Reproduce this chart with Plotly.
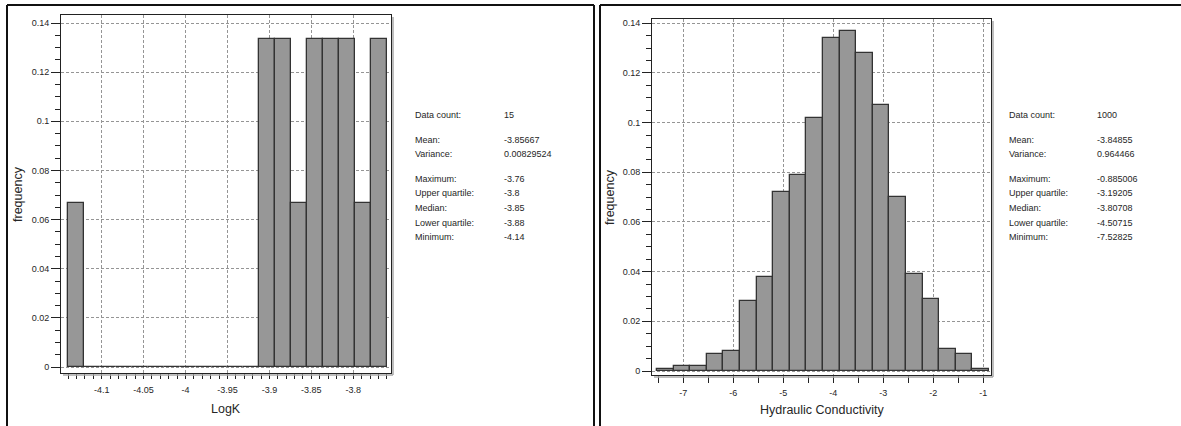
import plotly.graph_objects as go

W, H = 1181, 426

# ---------------- data ----------------
left_min, left_max = -4.14, -3.76
left_freq = [0.0667, 0, 0, 0, 0, 0, 0, 0, 0, 0, 0, 0,
             0.1333, 0.1333, 0.0667, 0.1333, 0.1333, 0.1333, 0.0667, 0.1333]
left_xtick_vals = [-4.1, -4.05, -4.0, -3.95, -3.9, -3.85, -3.8]
left_xtick_text = ["-4.1", "-4.05", "-4", "-3.95", "-3.9", "-3.85", "-3.8"]

right_min, right_max = -7.52825, -0.885006
right_freq = [0.001, 0.002, 0.002, 0.007, 0.008, 0.028, 0.038, 0.072, 0.079, 0.102,
              0.134, 0.137, 0.128, 0.107, 0.070, 0.039, 0.029, 0.009, 0.007, 0.001]
right_xtick_vals = [-7, -6, -5, -4, -3, -2, -1]
right_xtick_text = ["-7", "-6", "-5", "-4", "-3", "-2", "-1"]

ytick_vals = [0, 0.02, 0.04, 0.06, 0.08, 0.1, 0.12, 0.14]
ytick_text = ["0", "0.02", "0.04", "0.06", "0.08", "0.1", "0.12", "0.14"]

stat_labels = ["Data count:", "Mean:", "Variance:", "Maximum:", "Upper quartile:",
               "Median:", "Lower quartile:", "Minimum:"]
left_stats = ["15", "-3.85667", "0.00829524", "-3.76", "-3.8", "-3.85", "-3.88", "-4.14"]
right_stats = ["1000", "-3.84855", "0.964466", "-0.885006", "-3.19205", "-3.80708",
               "-4.50715", "-7.52825"]

left_xtitle = "LogK"
right_xtitle = "Hydraulic Conductivity"
ytitle = "frequency"


def bins(lo, hi, n):
    w = (hi - lo) / n
    return [lo + w * (i + 0.5) for i in range(n)], w


def px(x):
    return x / W


def py(y):
    return 1 - y / H


FONT = "Liberation Sans, Arial, sans-serif"
TXT = "#262626"

lx, lw = bins(left_min, left_max, len(left_freq))
rx, rw = bins(right_min, right_max, len(right_freq))

fig = go.Figure()
bar_style = dict(marker=dict(color="#979797", line=dict(color="#333333", width=1.3)),
                 showlegend=False, hoverinfo="x+y")
fig.add_trace(go.Bar(x=lx, y=left_freq, width=lw, xaxis="x", yaxis="y", **bar_style))
fig.add_trace(go.Bar(x=rx, y=right_freq, width=rw, xaxis="x2", yaxis="y2", **bar_style))

# pixel frames of the two plot areas
L = dict(x0=61, x1=391, y0=15, y1=373)
R = dict(x0=652, x1=991, y0=19, y1=375)

grid = dict(showgrid=True, gridcolor="#959595", gridwidth=1, griddash="3px,2px",
            showline=True, linecolor="#222222", linewidth=1, mirror=True,
            zeroline=False, ticks="outside", tickcolor="#222222", tickwidth=1,
            tickfont=dict(family=FONT, size=9, color=TXT), automargin=False,
            fixedrange=True)

fig.update_layout(
    width=W, height=H, margin=dict(l=0, r=0, t=0, b=0),
    paper_bgcolor="white", plot_bgcolor="white", bargap=0,
    xaxis=dict(domain=[px(L["x0"]), px(L["x1"])], range=[-4.1485, -3.755], anchor="y",
               tickmode="array", tickvals=left_xtick_vals, ticktext=left_xtick_text,
               ticklen=5, ticklabelstandoff=3,
               minor=dict(tickmode="linear", tick0=-4.0, dtick=0.01, ticks="outside",
                          ticklen=5, tickcolor="#222222", tickwidth=1, showgrid=False),
               **grid),
    yaxis=dict(domain=[py(L["y1"]), py(L["y0"])], range=[-0.00244, 0.14326], anchor="x",
               tickmode="array", tickvals=ytick_vals, ticktext=ytick_text, ticklen=9,
               minor=dict(tickmode="linear", tick0=0, dtick=0.005, ticks="outside",
                          ticklen=5, tickcolor="#222222", tickwidth=1, showgrid=False),
               **grid),
    xaxis2=dict(domain=[px(R["x0"]), px(R["x1"])], range=[-7.626, -0.846], anchor="y2",
                tickmode="array", tickvals=right_xtick_vals, ticktext=right_xtick_text,
                ticklen=7, ticklabelstandoff=2,
                minor=dict(tickmode="linear", tick0=-7.5, dtick=0.5, ticks="outside",
                           ticklen=7, tickcolor="#222222", tickwidth=1, showgrid=False),
                **grid),
    yaxis2=dict(domain=[py(R["y1"]), py(R["y0"])], range=[-0.00161, 0.14173], anchor="x2",
                tickmode="array", tickvals=ytick_vals, ticktext=ytick_text, ticklen=9,
                minor=dict(tickmode="linear", tick0=0, dtick=0.005, ticks="outside",
                           ticklen=5, tickcolor="#222222", tickwidth=1, showgrid=False),
                **grid),
)

shapes = []
# panel borders
for (x0, x1) in [(7, 594), (600, 1190)]:
    shapes.append(dict(type="line", xref="paper", yref="paper", x0=px(x0), x1=px(x0),
                       y0=py(5), y1=py(430), line=dict(color="#111111", width=2)))
    shapes.append(dict(type="line", xref="paper", yref="paper", x0=px(x0), x1=px(x1),
                       y0=py(5), y1=py(5), line=dict(color="#111111", width=2)))
shapes.append(dict(type="line", xref="paper", yref="paper", x0=px(594), x1=px(594),
                   y0=py(5), y1=py(430), line=dict(color="#111111", width=2)))
# shadows of plot frames
for F in (L, R):
    shapes.append(dict(type="line", xref="paper", yref="paper", x0=px(F["x1"] + 2),
                       x1=px(F["x1"] + 2), y0=py(F["y0"] + 2), y1=py(F["y1"] + 2),
                       line=dict(color="#a8a8a8", width=1.5)))
    shapes.append(dict(type="line", xref="paper", yref="paper", x0=px(F["x0"] + 2),
                       x1=px(F["x1"] + 2), y0=py(F["y1"] + 2), y1=py(F["y1"] + 2),
                       line=dict(color="#a8a8a8", width=1.5)))
fig.update_layout(shapes=shapes)

ann = []
# axis titles
ann.append(dict(text=left_xtitle, x=px((L["x0"] + L["x1"]) / 2), y=py(409)))
ann.append(dict(text=right_xtitle, x=px((R["x0"] + R["x1"]) / 2), y=py(410)))
ann.append(dict(text=ytitle, x=px(18), y=py((L["y0"] + L["y1"]) / 2), textangle=-90))
ann.append(dict(text=ytitle, x=px(610), y=py((R["y0"] + R["y1"]) / 2), textangle=-90))
ann = [dict(a, xref="paper", yref="paper", showarrow=False, xanchor="center",
            yanchor="middle", font=dict(family=FONT, size=12.5, color=TXT)) for a in ann]

stat_y = [115, 139.5, 154, 178.5, 193, 207.5, 222.5, 237]
for lab, lv, rv, yy in zip(stat_labels, left_stats, right_stats, stat_y):
    for xx, t in [(413, lab), (502, lv), (1007, lab), (1095, rv)]:
        ann.append(dict(text=t, x=px(xx), y=py(yy), xref="paper", yref="paper",
                        showarrow=False, xanchor="left", yanchor="middle",
                        font=dict(family=FONT, size=9, color=TXT)))
fig.update_layout(annotations=ann)

fig.write_html("out.html")
